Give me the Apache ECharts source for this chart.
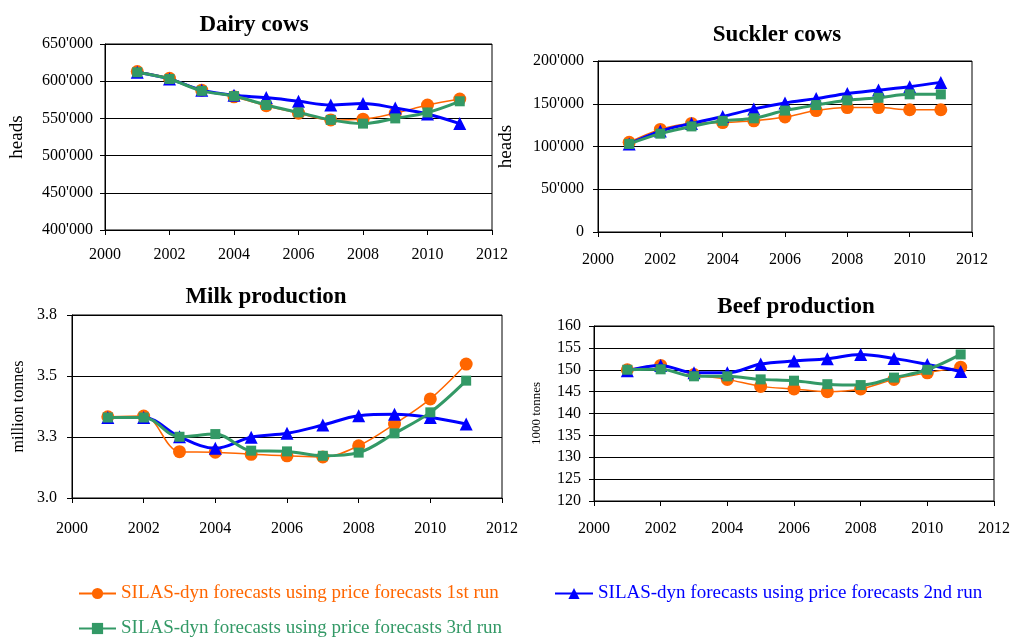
<!DOCTYPE html>
<html>
<head>
<meta charset="utf-8">
<script src="https://cdn.jsdelivr.net/npm/echarts@6/dist/echarts.min.js"></script>
<style>
  html, body { margin: 0; padding: 0; background: #fff; }
  #chart { width: 1013px; height: 639px; }
</style>
</head>
<body>
<div id="chart"></div>
<script>
// Forecast years
const years = [2001, 2002, 2003, 2004, 2005, 2006, 2007, 2008, 2009, 2010, 2011];

// Dairy cows (heads)
const dairyRun1 = [613000, 604000, 588000, 579000, 567000, 557000, 548000, 549000, 557000, 568000, 576000];
const dairyRun2 = [612000, 603000, 588000, 581000, 578000, 573000, 568000, 570000, 564000, 556000, 543000];
const dairyRun3 = [612000, 603000, 587000, 580000, 568000, 558000, 548000, 543000, 550000, 558000, 573000];

// Suckler cows (heads)
const sucklerRun1 = [105000, 120000, 127000, 128000, 130000, 134500, 142000, 145500, 145500, 143000, 143000];
const sucklerRun2 = [103000, 118000, 127000, 135000, 144000, 151000, 156000, 162000, 166000, 170000, 175000];
const sucklerRun3 = [103000, 115000, 123500, 130000, 133000, 142000, 148500, 154000, 157000, 161000, 161000];

// Milk production (million tonnes)
const milkRun1 = [3.333, 3.336, 3.190, 3.188, 3.179, 3.173, 3.168, 3.214, 3.303, 3.406, 3.549];
const milkRun2 = [3.330, 3.330, 3.251, 3.204, 3.249, 3.265, 3.299, 3.337, 3.343, 3.330, 3.303];
const milkRun3 = [3.330, 3.330, 3.251, 3.262, 3.194, 3.191, 3.173, 3.186, 3.265, 3.351, 3.481];

// Beef production (1000 tonnes)
const beefRun1 = [150.0, 151.0, 148.9, 147.8, 146.2, 145.6, 145.0, 145.6, 147.8, 149.3, 150.6];
const beefRun2 = [149.8, 151.0, 149.3, 149.3, 151.3, 152.0, 152.5, 153.5, 152.6, 151.2, 149.6];
const beefRun3 = [150.0, 150.1, 148.5, 148.5, 147.8, 147.5, 146.7, 146.5, 148.2, 150.0, 153.5];

// Panel titles, axis names and run names
const panelTitles = ['Dairy cows', 'Suckler cows', 'Milk production', 'Beef production'];
const axisNames = ['heads', 'heads', 'million tonnes', '1000 tonnes'];
const runNames = [
  'SILAS-dyn forecasts using price forecasts 1st run',
  'SILAS-dyn forecasts using price forecasts 2nd run',
  'SILAS-dyn forecasts using price forecasts 3rd run'
];

const ORANGE = '#FF6600';
const BLUE = '#0000FF';
const GREEN = '#339966';
const FONT = 'Liberation Serif';

const panels = [
  { runs: [dairyRun1, dairyRun2, dairyRun3], min: 400000, max: 650000, interval: 50000, thousands: true,
    grid: { left: 105, top: 44, width: 387, height: 186 }, titleX: 249, titleY: 9,
    nameGap: 78, nameSize: 19, xMargin: 17, yMargin: 12 },
  { runs: [sucklerRun1, sucklerRun2, sucklerRun3], min: 0, max: 200000, interval: 50000, thousands: true,
    grid: { left: 598, top: 61, width: 374, height: 171 }, titleX: 772, titleY: 19,
    nameGap: 82, nameSize: 19, xMargin: 20, yMargin: 14 },
  { runs: [milkRun1, milkRun2, milkRun3], min: 3.0, max: 3.75, interval: 0.25, decimals: 1,
    grid: { left: 72, top: 315, width: 430, height: 183 }, titleX: 261, titleY: 281,
    nameGap: 45, nameSize: 16, xMargin: 23, yMargin: 15 },
  { runs: [beefRun1, beefRun2, beefRun3], min: 120, max: 160, interval: 5, decimals: 0,
    grid: { left: 594, top: 326, width: 400, height: 175 }, titleX: 791, titleY: 291,
    nameGap: 51, nameSize: 13, xMargin: 20, yMargin: 13 }
];

// Thousands separated by an apostrophe, e.g. 650'000
function fmtThousands(v) {
  const s = String(Math.round(v));
  return s.replace(/\B(?=(\d{3})+(?!\d))/g, "'");
}

const runStyles = [
  { color: ORANGE, symbol: 'circle', symbolSize: 13, width: 1.5 },
  { color: BLUE, symbol: 'triangle', symbolSize: 13, width: 3 },
  { color: GREEN, symbol: 'rect', symbolSize: 10, width: 3 }
];

// Legend placement: run 1 and run 2 side by side, run 3 below run 1
const legendSpots = [
  { left: 78, top: 584, itemWidth: 37 },
  { left: 554, top: 584, itemWidth: 38 },
  { left: 78, top: 619, itemWidth: 37 }
];

const option = {
  backgroundColor: '#fff',
  animation: false,
  textStyle: { fontFamily: FONT, color: '#000' },
  title: panels.map((p, i) => ({
    text: panelTitles[i],
    left: p.titleX,
    top: p.titleY,
    textAlign: 'center',
    textStyle: { fontFamily: FONT, fontWeight: 'bold', fontSize: 23, color: '#000' }
  })),
  grid: panels.map(p => Object.assign({ show: true, borderColor: '#000', borderWidth: 1, backgroundColor: 'transparent' }, p.grid)),
  xAxis: panels.map((p, i) => ({
    type: 'value',
    gridIndex: i,
    min: 2000,
    max: 2012,
    interval: 2,
    axisLine: { show: true, lineStyle: { color: '#000', width: 1 } },
    axisTick: { show: true, length: 5, lineStyle: { color: '#000' } },
    splitLine: { show: false },
    axisLabel: { fontFamily: FONT, fontSize: 16, color: '#000', margin: p.xMargin, formatter: v => String(v) }
  })),
  yAxis: panels.map((p, i) => ({
    type: 'value',
    gridIndex: i,
    min: p.min,
    max: p.max,
    interval: p.interval,
    name: axisNames[i],
    nameLocation: 'middle',
    nameRotate: 90,
    nameGap: p.nameGap,
    nameTextStyle: { fontFamily: FONT, fontSize: p.nameSize, color: '#000' },
    axisLine: { show: true, lineStyle: { color: '#000', width: 1 } },
    axisTick: { show: true, length: 5, lineStyle: { color: '#000' } },
    splitLine: { show: true, lineStyle: { color: '#000', width: 1 } },
    axisLabel: {
      fontFamily: FONT, fontSize: 16, color: '#000', margin: p.yMargin,
      formatter: v => p.thousands ? fmtThousands(v) : v.toFixed(p.decimals)
    }
  })),
  legend: runNames.map((name, k) => ({
    data: [name],
    left: legendSpots[k].left,
    top: legendSpots[k].top,
    padding: 0,
    itemWidth: legendSpots[k].itemWidth,
    itemHeight: 14,
    itemGap: 10,
    selectedMode: false,
    textStyle: { fontFamily: FONT, fontSize: 19, color: runStyles[k].color }
  })),
  series: []
};

panels.forEach((p, i) => {
  p.runs.forEach((vals, k) => {
    const st = runStyles[k];
    option.series.push({
      name: runNames[k],
      type: 'line',
      xAxisIndex: i,
      yAxisIndex: i,
      smooth: 0.35,
      data: years.map((y, j) => [y, vals[j]]),
      symbol: st.symbol,
      symbolSize: st.symbolSize,
      showSymbol: true,
      color: st.color,
      itemStyle: { color: st.color },
      lineStyle: { color: st.color, width: st.width },
      z: 2 + k
    });
  });
});

const chart = echarts.init(document.getElementById('chart'), null, { renderer: 'canvas' });
chart.setOption(option);
</script>
</body>
</html>
